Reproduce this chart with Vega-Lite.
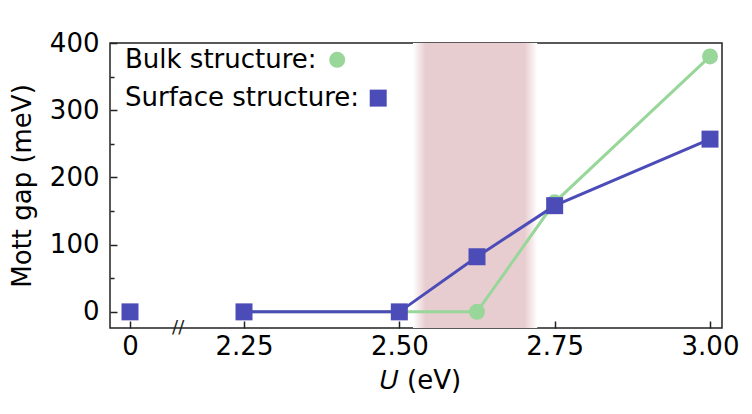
{
  "$schema": "https://vega.github.io/schema/vega-lite/v6.json",
  "width": 612,
  "height": 285,
  "autosize": {"type": "none"},
  "padding": {"left": 110, "top": 43, "right": 30, "bottom": 86},
  "config": {
    "font": "DejaVu Sans",
    "view": {"stroke": "#222222", "strokeWidth": 1.5},
    "axis": {
      "domain": false,
      "grid": false,
      "tickColor": "#222222",
      "tickWidth": 1.5,
      "labelColor": "black",
      "titleColor": "black",
      "labelFontSize": 26,
      "titleFontSize": 26,
      "titleFontWeight": "normal"
    }
  },
  "data": {
    "values": [
      {"U": 0, "gap": 0, "series": "Bulk"},
      {"U": 2.25, "gap": 0, "series": "Bulk"},
      {"U": 2.5, "gap": 0, "series": "Bulk"},
      {"U": 2.625, "gap": 0, "series": "Bulk"},
      {"U": 2.75, "gap": 163, "series": "Bulk"},
      {"U": 3.0, "gap": 380, "series": "Bulk"},
      {"U": 0, "gap": 0, "series": "Surface"},
      {"U": 2.25, "gap": 0, "series": "Surface"},
      {"U": 2.5, "gap": 0, "series": "Surface"},
      {"U": 2.625, "gap": 82, "series": "Surface"},
      {"U": 2.75, "gap": 158, "series": "Surface"},
      {"U": 3.0, "gap": 257, "series": "Surface"}
    ]
  },
  "layer": [
    {
      "data": {"values": [{"U_start": 2.522, "U_end": 2.722}]},
      "mark": {
        "type": "rect",
        "color": {
          "gradient": "linear",
          "x1": 0, "x2": 1, "y1": 0, "y2": 0,
          "stops": [
            {"offset": 0, "color": "#ffffff"},
            {"offset": 0.1, "color": "#e8cdd0"},
            {"offset": 0.9, "color": "#e8cdd0"},
            {"offset": 1, "color": "#ffffff"}
          ]
        }
      },
      "encoding": {
        "x": {
          "field": "U_start",
          "type": "quantitative",
          "scale": {"domain": [0, 2.25, 3.0], "range": [20, 134, 600], "nice": false, "zero": false},
          "axis": {
            "title": "𝑈 (eV)",
            "values": [0, 2.25, 2.5, 2.75, 3.0],
            "labelExpr": "datum.value == 0 ? '0' : format(datum.value, '.2f')",
            "labelFlush": false,
            "tickSize": -7,
            "labelPadding": 12,
            "titlePadding": 8
          }
        },
        "x2": {"field": "U_end"}
      }
    },
    {
      "transform": [{"filter": "datum.series == 'Bulk' && datum.U > 1"}],
      "mark": {"type": "line", "color": "#98d69a", "strokeWidth": 3},
      "encoding": {
        "x": {"field": "U", "type": "quantitative"},
        "y": {
          "field": "gap",
          "type": "quantitative",
          "scale": {"domain": [-24, 400], "nice": false, "zero": false},
          "axis": {
            "orient": "left",
            "title": "Mott gap (meV)",
            "values": [0, 100, 200, 300, 400],
            "tickSize": -7,
            "labelPadding": 18,
            "titlePadding": 14
          }
        }
      }
    },
    {
      "transform": [{"filter": "datum.series == 'Bulk'"}],
      "mark": {"type": "point", "shape": "circle", "filled": true, "opacity": 1, "color": "#98d69a", "size": 256},
      "encoding": {
        "x": {"field": "U", "type": "quantitative"},
        "y": {
          "field": "gap",
          "type": "quantitative",
          "axis": {
            "orient": "left",
            "title": null,
            "labels": false,
            "values": [50, 150, 250, 350],
            "tickSize": -4
          }
        }
      }
    },
    {
      "transform": [{"filter": "datum.series == 'Surface' && datum.U > 1"}],
      "mark": {"type": "line", "color": "#4c4cb8", "strokeWidth": 3},
      "encoding": {
        "x": {"field": "U", "type": "quantitative"},
        "y": {"field": "gap", "type": "quantitative", "axis": null}
      }
    },
    {
      "transform": [{"filter": "datum.series == 'Surface'"}],
      "mark": {"type": "point", "shape": "square", "filled": true, "opacity": 1, "color": "#4c4cb8", "size": 289},
      "encoding": {
        "x": {"field": "U", "type": "quantitative"},
        "y": {"field": "gap", "type": "quantitative", "axis": null}
      }
    },
    {
      "data": {"values": [{"label": "Bulk structure:"}]},
      "mark": {"type": "text", "align": "left", "baseline": "middle", "fontSize": 26, "color": "black"},
      "encoding": {
        "x": {"datum": -0.099},
        "y": {"datum": 375, "axis": null},
        "text": {"field": "label", "type": "nominal"}
      }
    },
    {
      "data": {"values": [{"label": "Bulk"}]},
      "mark": {"type": "point", "shape": "circle", "filled": true, "opacity": 1, "color": "#98d69a", "size": 256},
      "encoding": {
        "x": {"datum": 2.4},
        "y": {"datum": 375, "axis": null}
      }
    },
    {
      "data": {"values": [{"label": "Surface structure:"}]},
      "mark": {"type": "text", "align": "left", "baseline": "middle", "fontSize": 26, "color": "black"},
      "encoding": {
        "x": {"datum": -0.099},
        "y": {"datum": 318, "axis": null},
        "text": {"field": "label", "type": "nominal"}
      }
    },
    {
      "data": {"values": [{"label": "Surface"}]},
      "mark": {"type": "point", "shape": "square", "filled": true, "opacity": 1, "color": "#4c4cb8", "size": 289},
      "encoding": {
        "x": {"datum": 2.466},
        "y": {"datum": 318, "axis": null}
      }
    },
    {
      "data": {"values": [{"label": "//"}]},
      "mark": {"type": "text", "align": "center", "baseline": "middle", "fontSize": 18, "color": "#222222"},
      "encoding": {
        "x": {"datum": 0.95},
        "y": {"datum": -24, "axis": null},
        "text": {"field": "label", "type": "nominal"}
      }
    }
  ],
  "resolve": {"axis": {"y": "independent"}}
}
